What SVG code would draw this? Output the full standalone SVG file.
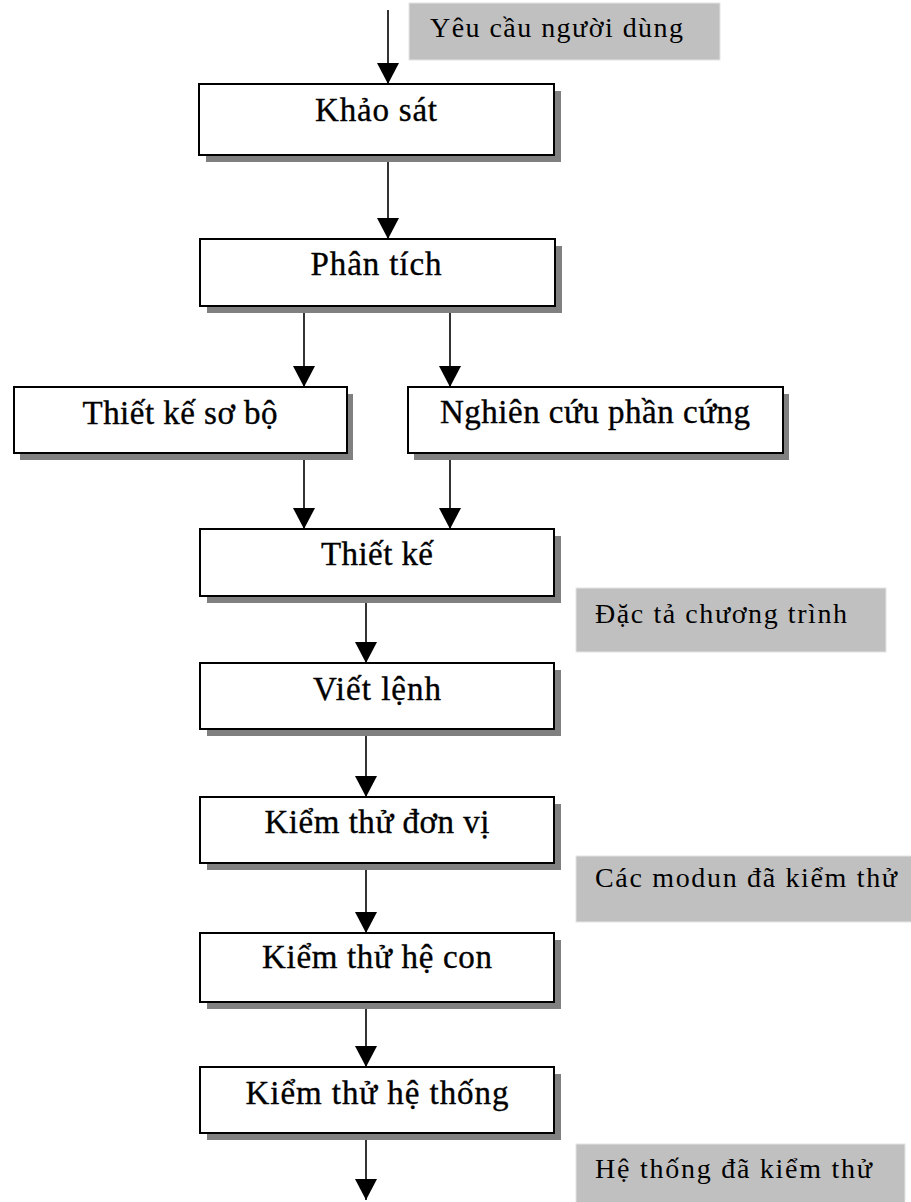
<svg xmlns="http://www.w3.org/2000/svg" width="911" height="1202" viewBox="0 0 911 1202">
<style>
.box{fill:#ffffff;stroke:#000000;stroke-width:2}
.shadow{fill:#808080}
.note{fill:#c0c0c0;stroke:#e4e4e4;stroke-width:1}
.nt{font-family:"Liberation Serif","DejaVu Serif",serif;font-size:33px;fill:#000000;stroke:#000000;stroke-width:0.35;text-anchor:middle}
.lt{font-family:"Liberation Serif","DejaVu Serif",serif;font-size:28px;fill:#000000}
.conn{stroke:#000000;stroke-width:1.6;fill:none;marker-end:url(#arr)}
</style>
<defs>
<marker id="arr" markerUnits="userSpaceOnUse" viewBox="0 0 21 22" markerWidth="21" markerHeight="22" refX="21" refY="11" orient="auto">
<path d="M0,0 L21,11 L0,22 z" fill="#000000"/>
</marker>
</defs>
<rect width="911" height="1202" fill="#ffffff"/>

<g id="note-yeucau">
<rect class="note" x="409" y="3" width="311" height="57"/>
<text class="lt" x="430" y="37" textLength="253" lengthAdjust="spacing">Yêu cầu người dùng</text>
</g>
<g id="note-dacta">
<rect class="note" x="576" y="588" width="310" height="64"/>
<text class="lt" x="595" y="623" textLength="252" lengthAdjust="spacing">Đặc tả chương trình</text>
</g>
<g id="note-modun">
<rect class="note" x="576" y="856" width="340" height="66"/>
<text class="lt" x="595" y="887" textLength="302" lengthAdjust="spacing">Các modun đã kiểm thử</text>
</g>
<g id="note-hethong">
<rect class="note" x="576" y="1144" width="329" height="62"/>
<text class="lt" x="595" y="1178" textLength="277" lengthAdjust="spacing">Hệ thống đã kiểm thử</text>
</g>

<g id="connectors">
<line class="conn" x1="388" y1="10" x2="388" y2="84"/>
<line class="conn" x1="388" y1="156" x2="388" y2="239"/>
<line class="conn" x1="304" y1="307" x2="304" y2="387"/>
<line class="conn" x1="450" y1="307" x2="450" y2="387"/>
<line class="conn" x1="304" y1="452" x2="304" y2="529"/>
<line class="conn" x1="450" y1="452" x2="450" y2="529"/>
<line class="conn" x1="366" y1="597" x2="366" y2="663"/>
<line class="conn" x1="366" y1="730" x2="366" y2="797"/>
<line class="conn" x1="366" y1="864" x2="366" y2="933"/>
<line class="conn" x1="366" y1="1003" x2="366" y2="1067"/>
<line class="conn" x1="366" y1="1134" x2="366" y2="1200"/>
</g>

<g id="khaosat">
<rect class="shadow" x="206" y="91" width="355" height="71"/>
<rect class="box" x="199" y="84" width="355" height="71"/>
<text class="nt" x="376" y="121" textLength="122" lengthAdjust="spacing">Khảo sát</text>
</g>
<g id="phantich">
<rect class="shadow" x="207" y="246" width="355" height="67"/>
<rect class="box" x="200" y="239" width="355" height="67"/>
<text class="nt" x="376" y="275" textLength="131" lengthAdjust="spacing">Phân tích</text>
</g>
<g id="thietkesobo">
<rect class="shadow" x="20" y="394" width="333" height="66"/>
<rect class="box" x="14" y="387" width="333" height="66"/>
<text class="nt" x="180" y="424" textLength="195" lengthAdjust="spacing">Thiết kế sơ bộ</text>
</g>
<g id="nghiencuu">
<rect class="shadow" x="414" y="394" width="375" height="66"/>
<rect class="box" x="408" y="387" width="375" height="66"/>
<text class="nt" x="595" y="423" textLength="310" lengthAdjust="spacing">Nghiên cứu phần cứng</text>
</g>
<g id="thietke">
<rect class="shadow" x="207" y="536" width="354" height="67"/>
<rect class="box" x="200" y="529" width="354" height="67"/>
<text class="nt" x="377" y="565" textLength="112" lengthAdjust="spacing">Thiết kế</text>
</g>
<g id="vietlenh">
<rect class="shadow" x="207" y="670" width="354" height="66"/>
<rect class="box" x="200" y="663" width="354" height="66"/>
<text class="nt" x="377" y="700" textLength="128" lengthAdjust="spacing">Viết lệnh</text>
</g>
<g id="kiemthudonvi">
<rect class="shadow" x="207" y="804" width="354" height="66"/>
<rect class="box" x="200" y="797" width="354" height="66"/>
<text class="nt" x="377" y="833" textLength="225" lengthAdjust="spacing">Kiểm thử đơn vị</text>
</g>
<g id="kiemthuhecon">
<rect class="shadow" x="207" y="940" width="354" height="69"/>
<rect class="box" x="200" y="933" width="354" height="69"/>
<text class="nt" x="377" y="968" textLength="230" lengthAdjust="spacing">Kiểm thử hệ con</text>
</g>
<g id="kiemthuhethong">
<rect class="shadow" x="207" y="1074" width="354" height="66"/>
<rect class="box" x="200" y="1067" width="354" height="66"/>
<text class="nt" x="377" y="1104" textLength="263" lengthAdjust="spacing">Kiểm thử hệ thống</text>
</g>
</svg>
